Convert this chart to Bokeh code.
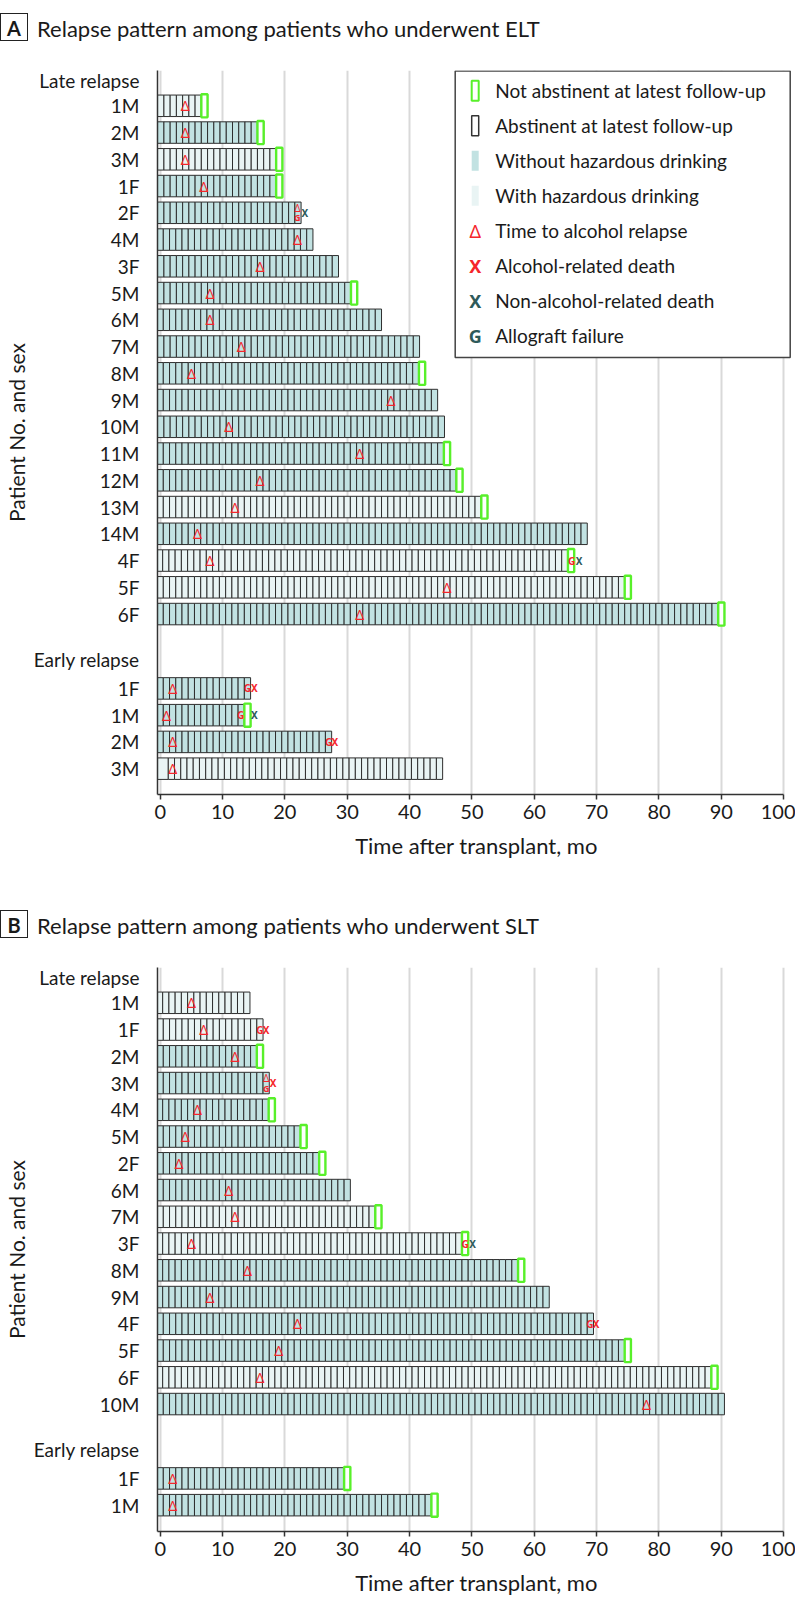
import numpy as np
from bokeh.plotting import figure
from bokeh.models import Range1d, FixedTicker, CustomJSTickFormatter, Div
from bokeh.layouts import column
from bokeh.embed import file_html
from bokeh.resources import INLINE
from bokeh.core.properties import value

# ---------------- data ----------------
# Panel A: ELT
elt_late_ids = ["1M", "2M", "3M", "1F", "2F", "4M", "3F", "5M", "6M", "7M", "8M", "9M", "10M",
                "11M", "12M", "13M", "14M", "4F", "5F", "6F"]
elt_late_followup = [7.6, 16.6, 19.6, 19.6, 22.6, 24.5, 28.6, 31.6, 35.5, 41.6, 42.5, 44.5, 45.6,
                     46.5, 48.5, 52.5, 68.5, 66.4, 75.5, 90.5]
elt_late_relapse = [4, 4, 4, 7, 22, 22, 16, 8, 8, 13, 5, 37, 11, 32, 16, 12, 6, 8, 46, 32]
elt_late_hazardous = [1, 0, 1, 0, 0, 0, 0, 0, 0, 0, 0, 0, 0, 0, 0, 1, 0, 1, 1, 0]
elt_late_abstinent = [0, 0, 0, 0, 1, 1, 1, 0, 1, 1, 0, 1, 1, 0, 0, 0, 1, 0, 0, 0]
elt_late_graft = [None, None, None, None, 22, None, None, None, None, None, None, None, None,
                  None, None, None, None, 66.0, None, None]
elt_late_death = [None, None, None, None, 23.2, None, None, None, None, None, None, None, None,
                  None, None, None, None, 67.2, None, None]
elt_late_death_alcohol = [0, 0, 0, 0, 0, 0, 0, 0, 0, 0, 0, 0, 0, 0, 0, 0, 0, 0, 0, 0]

elt_early_ids = ["1F", "1M", "2M", "3M"]
elt_early_followup = [14.5, 14.5, 27.5, 45.3]
elt_early_relapse = [2, 1, 2, 2]
elt_early_hazardous = [0, 0, 0, 1]
elt_early_abstinent = [1, 0, 1, 1]
elt_early_graft = [14.0, 12.9, 27.0, None]
elt_early_death = [15.1, 15.1, 28.0, None]
elt_early_death_alcohol = [1, 0, 1, 0]

# Panel B: SLT
slt_late_ids = ["1M", "1F", "2M", "3M", "4M", "5M", "2F", "6M", "7M", "3F", "8M", "9M", "4F",
                "5F", "6F", "10M"]
slt_late_followup = [14.4, 16.5, 16.5, 17.5, 18.4, 23.5, 26.5, 30.5, 35.5, 49.4, 58.4, 62.4, 69.5,
                     75.5, 89.4, 90.5]
slt_late_relapse = [5, 7, 12, 17, 6, 4, 3, 11, 12, 5, 14, 8, 22, 19, 16, 78]
slt_late_hazardous = [1, 1, 0, 0, 0, 0, 0, 0, 1, 1, 0, 0, 0, 0, 1, 0]
slt_late_abstinent = [1, 1, 0, 1, 0, 0, 0, 1, 0, 0, 0, 1, 1, 0, 0, 1]
slt_late_graft = [None, 16.0, None, 17, None, None, None, None, None, 48.9, None, None, 68.9,
                  None, None, None]
slt_late_death = [None, 17.0, None, 18.1, None, None, None, None, None, 50.1, None, None, 69.9,
                  None, None, None]
slt_late_death_alcohol = [0, 1, 0, 1, 0, 0, 0, 0, 0, 0, 0, 0, 1, 0, 0, 0]

slt_early_ids = ["1F", "1M"]
slt_early_followup = [30.5, 44.5]
slt_early_relapse = [2, 2]
slt_early_hazardous = [0, 0]
slt_early_abstinent = [0, 0]
slt_early_graft = [None, None]
slt_early_death = [None, None]
slt_early_death_alcohol = [0, 0]

x_ticks = [0, 10, 20, 30, 40, 50, 60, 70, 80, 90, 100]

legend_labels = ["Not abstinent at latest follow-up", "Abstinent at latest follow-up",
                 "Without hazardous drinking", "With hazardous drinking",
                 "Time to alcohol relapse", "Alcohol-related death",
                 "Non-alcohol-related death", "Allograft failure"]

# ---------------- styling / geometry ----------------
FONT = "Lato"
TXT = "#1a1a1a"
TEAL = "#c2e2e2"
LIGHT = "#e9f4f4"
GREEN = "#58f02a"
RED = "#f5262b"
DARK = "#2e5a5a"
CELL_LINE = "#2e2e2e"
GRID = "#d9d9d9"

DIV_H = 50
LEFT = 146
FRAME_W = 638
X0 = -0.43
PX_PER_MO = 6.235
X1 = X0 + FRAME_W / PX_PER_MO
ROW_PX = 26.75
TOP = 20                      # figure border above frame
FRAME_TOP_PANEL = DIV_H + TOP  # frame top within panel
ROW0_CY = 105.3 - DIV_H        # first late row centre within figure canvas
R_TOP = (TOP - ROW0_CY) / ROW_PX
BAR_H = 21.5 / ROW_PX
EARLY_GAP = 1.78
EARLY_LABEL_OFF = 0.69
LATE_LABEL_POS = -0.93


def cx(c):
    return X0 + (c - LEFT) / PX_PER_MO


def cy(c):
    # c: y in panel px (panel = title div + figure)
    return (c - DIV_H - ROW0_CY) / ROW_PX


def title_div(letter, title):
    html = (
        '<div style="position:relative;width:782px;height:%dpx;font-family:Lato,sans-serif;'
        'color:#1a1a1a;">'
        '<div style="position:absolute;left:0px;top:13px;width:28px;height:28px;'
        'border:1.5px solid #222;text-align:center;line-height:28px;font-weight:bold;'
        'font-size:20px;">%s</div>'
        '<div style="position:absolute;left:37px;top:13px;height:31px;line-height:31px;'
        'font-size:22px;white-space:nowrap;">%s</div></div>' % (DIV_H, letter, title)
    )
    return Div(text=html, width=782, height=DIV_H, margin=0)


def make_panel(late, early, bottom_border, legend=False):
    n_late = len(late["ids"])
    late_y = list(range(n_late))
    early_y = [n_late + EARLY_GAP + j for j in range(len(early["ids"]))]
    r_bot_raw = early_y[-1] + 0.98
    fh = int(round((r_bot_raw - R_TOP) * ROW_PX))
    r_bot = R_TOP + fh / ROW_PX

    p = figure(frame_width=FRAME_W, frame_height=fh, min_border_left=LEFT, min_border_right=0,
               min_border_top=TOP, min_border_bottom=bottom_border,
               x_range=Range1d(X0, X1), y_range=Range1d(r_bot, R_TOP),
               output_backend="svg", toolbar_location=None)
    p.outline_line_color = None
    p.background_fill_color = "white"
    p.border_fill_color = "white"

    # axes
    p.xaxis.ticker = FixedTicker(ticks=x_ticks)
    p.xaxis.bounds = (X0, 100)
    p.xaxis.axis_line_color = "#333333"
    p.xaxis.axis_line_width = 1.5
    p.xaxis.major_tick_line_color = "#333333"
    p.xaxis.major_tick_line_width = 1.5
    p.xaxis.major_tick_in = 0
    p.xaxis.major_tick_out = 5
    p.xaxis.minor_tick_line_color = None
    p.xaxis.major_label_text_font = FONT
    p.xaxis.major_label_text_font_size = "20px"
    p.xaxis.major_label_text_color = TXT
    p.xaxis.major_label_standoff = 5
    p.xaxis.axis_label = "Time after transplant, mo"
    p.xaxis.axis_label_text_font = FONT
    p.xaxis.axis_label_text_font_size = "22px"
    p.xaxis.axis_label_text_font_style = "normal"
    p.xaxis.axis_label_text_color = TXT
    p.xaxis.axis_label_standoff = 10

    p.xgrid.grid_line_color = GRID
    p.xgrid.grid_line_width = 2
    p.ygrid.grid_line_color = None

    tick_pos = [LATE_LABEL_POS] + late_y + [n_late + EARLY_LABEL_OFF] + early_y
    tick_lab = ["Late relapse"] + list(late["ids"]) + ["Early relapse"] + list(early["ids"])
    p.yaxis.ticker = FixedTicker(ticks=tick_pos)
    p.yaxis.formatter = CustomJSTickFormatter(args=dict(pos=tick_pos, labels=tick_lab), code="""
        let best = 0, bd = 1e9;
        for (let i = 0; i < pos.length; i++) {
            const d = Math.abs(pos[i] - tick);
            if (d < bd) { bd = d; best = i; }
        }
        return labels[best];
    """)
    p.yaxis.major_tick_line_color = None
    p.yaxis.minor_tick_line_color = None
    p.yaxis.axis_line_color = "#333333"
    p.yaxis.axis_line_width = 1.5
    p.yaxis.major_label_text_font = FONT
    p.yaxis.major_label_text_font_size = "19px"
    p.yaxis.major_label_text_color = TXT
    p.yaxis.major_label_standoff = 12
    p.yaxis.axis_label = "Patient No. and sex"
    p.yaxis.axis_label_text_font = FONT
    p.yaxis.axis_label_text_font_size = "21px"
    p.yaxis.axis_label_text_font_style = "normal"
    p.yaxis.axis_label_text_color = TXT
    p.yaxis.axis_label_standoff = 2

    # bars
    L, R, T, B, F = [], [], [], [], []
    gl, gr, gt, gb = [], [], [], []
    d_x, d_y, d_off, d_size = [], [], [], []
    g_x, g_y, g_off, g_size, g_col = [], [], [], [], []
    x_x, x_y, x_col = [], [], []
    for grp, ys in ((late, late_y), (early, early_y)):
        for i, y in enumerate(ys):
            f = grp["followup"][i]
            fill = LIGHT if grp["hazardous"][i] else TEAL
            n = int(np.floor(f - X0))
            edges = [X0] + [f - k for k in range(n, 0, -1) if f - k > X0 + 0.8] + [f]
            for a, b in zip(edges[:-1], edges[1:]):
                L.append(a); R.append(b); T.append(y - BAR_H / 2); B.append(y + BAR_H / 2); F.append(fill)
            if not grp["abstinent"][i]:
                gl.append(f - 1); gr.append(f)
                gt.append(y - BAR_H / 2 - 0.03); gb.append(y + BAR_H / 2 + 0.03)
            rel = grp["relapse"][i]
            gft = grp["graft"][i]
            stacked = gft is not None and abs(gft - rel) < 0.01
            d_x.append(rel); d_y.append(y)
            d_off.append(-5 if stacked else 0)
            d_size.append("10px" if stacked else "14px")
            if gft is not None:
                g_x.append(gft); g_y.append(y)
                g_off.append(5 if stacked else 0)
                g_size.append("9px" if stacked else "10px")
                g_col.append(RED)
            dth = grp["death"][i]
            if dth is not None:
                x_x.append(dth); x_y.append(y)
                x_col.append(RED if grp["death_alcohol"][i] else DARK)

    p.quad(left=L, right=R, top=T, bottom=B, fill_color=F, line_color=CELL_LINE, line_width=1)
    if gl:
        p.quad(left=gl, right=gr, top=gt, bottom=gb, fill_color="white", line_color=GREEN,
               line_width=2.4)
    p.text(x=d_x, y=d_y, text=["Δ"] * len(d_x), y_offset=d_off, text_font_size=d_size,
           text_font=value("Noto Sans"), text_color=RED, text_align="center",
           text_baseline="middle")
    if g_x:
        p.text(x=g_x, y=g_y, text=["G"] * len(g_x), y_offset=g_off, text_font_size=g_size,
               text_font=value("Noto Sans"), text_font_style="bold", text_color=g_col,
               text_align="center", text_baseline="middle")
    if x_x:
        p.text(x=x_x, y=x_y, text=["X"] * len(x_x), text_font_size="10px",
               text_font=value("Noto Sans"), text_font_style="bold", text_color=x_col,
               text_align="center", text_baseline="middle")

    # legend
    if legend:
        p.quad(left=[cx(443.7)], right=[cx(778.7)], top=[cy(70.5)], bottom=[cy(357)],
               fill_color="white", line_color="#444444", line_width=1.5)
        item_y = [cy(90.3 + 35 * k) for k in range(len(legend_labels))]
        sx = cx(463.7)
        hw = 3.5 / PX_PER_MO
        hh = 10 / ROW_PX
        p.quad(left=[sx - hw] * 2, right=[sx + hw] * 2,
               top=[item_y[0] - hh, item_y[1] - hh], bottom=[item_y[0] + hh, item_y[1] + hh],
               fill_color="white", line_color=[GREEN, "#333333"], line_width=[2, 1.5])
        p.quad(left=[sx - hw] * 2, right=[sx + hw] * 2,
               top=[item_y[2] - hh, item_y[3] - hh], bottom=[item_y[2] + hh, item_y[3] + hh],
               fill_color=[TEAL, LIGHT], line_color=None)
        p.text(x=[sx], y=[item_y[4]], text=["Δ"], text_font=value("Noto Sans"),
               text_font_size="18px", text_color=RED, text_align="center",
               text_baseline="middle")
        p.text(x=[sx] * 3, y=item_y[5:8], text=["X", "X", "G"], text_font=value("Noto Sans"),
               text_font_size="18px", text_font_style="bold", text_color=[RED, DARK, DARK],
               text_align="center", text_baseline="middle")
        p.text(x=[cx(483.7)] * len(legend_labels), y=item_y, text=legend_labels,
               text_font=value(FONT), text_font_size="19px", text_color=TXT,
               text_align="left", text_baseline="middle")
    return p


elt_late = dict(ids=elt_late_ids, followup=elt_late_followup, relapse=elt_late_relapse,
                hazardous=elt_late_hazardous, abstinent=elt_late_abstinent, graft=elt_late_graft,
                death=elt_late_death, death_alcohol=elt_late_death_alcohol)
elt_early = dict(ids=elt_early_ids, followup=elt_early_followup, relapse=elt_early_relapse,
                 hazardous=elt_early_hazardous, abstinent=elt_early_abstinent,
                 graft=elt_early_graft, death=elt_early_death,
                 death_alcohol=elt_early_death_alcohol)
slt_late = dict(ids=slt_late_ids, followup=slt_late_followup, relapse=slt_late_relapse,
                hazardous=slt_late_hazardous, abstinent=slt_late_abstinent, graft=slt_late_graft,
                death=slt_late_death, death_alcohol=slt_late_death_alcohol)
slt_early = dict(ids=slt_early_ids, followup=slt_early_followup, relapse=slt_early_relapse,
                 hazardous=slt_early_hazardous, abstinent=slt_early_abstinent,
                 graft=slt_early_graft, death=slt_early_death,
                 death_alcohol=slt_early_death_alcohol)

divA = title_div("A", "Relapse pattern among patients who underwent ELT")
pA = make_panel(elt_late, elt_early, bottom_border=103, legend=True)
divB = title_div("B", "Relapse pattern among patients who underwent SLT")
pB = make_panel(slt_late, slt_early, bottom_border=77)

layout = column(divA, pA, divB, pB, spacing=0)
open("out.html", "w").write(file_html(layout, INLINE))
